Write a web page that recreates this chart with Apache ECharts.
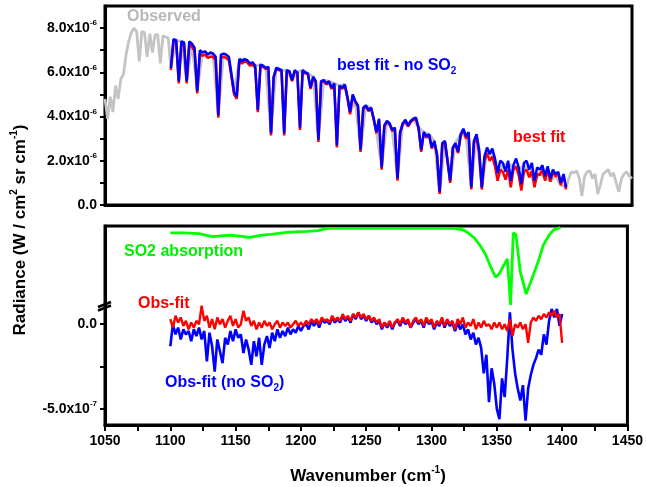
<!DOCTYPE html>
<html><head><meta charset="utf-8">
<script src="https://cdn.jsdelivr.net/npm/echarts@6/dist/echarts.min.js"></script>
<style>html,body{margin:0;padding:0;background:#fff}#c{width:646px;height:487px}</style>
</head><body><div id="c"></div>
<script>
// ---------- DATA (radiance in units of 1e-6, residuals in units of 1e-7 W / cm2 sr cm-1) ----------
const wnFit = [
1100,1102,1104,1106,1108,1110,1112,1114,1116,1118,
1120,1122,1124,1126,1128,1130,1132,1134,1136,1138,
1140,1142,1144,1146,1148,1150,1152,1154,1156,1158,
1160,1162,1164,1166,1168,1170,1172,1174,1176,1178,
1180,1182,1184,1186,1188,1190,1192,1194,1196,1198,
1200,1202,1204,1206,1208,1210,1212,1214,1216,1218,
1220,1222,1224,1226,1228,1230,1232,1234,1236,1238,
1240,1242,1244,1246,1248,1250,1252,1254,1256,1258,
1260,1262,1264,1266,1268,1270,1272,1274,1276,1278,
1280,1282,1284,1286,1288,1290,1292,1294,1296,1298,
1300,1302,1304,1306,1308,1310,1312,1314,1316,1318,
1320,1322,1324,1326,1328,1330,1332,1334,1336,1338,
1340,1342,1344,1346,1348,1350,1352,1354,1356,1358,
1360,1362,1364,1366,1368,1370,1372,1374,1376,1378,
1380,1382,1384,1386,1388,1390,1392,1394,1396,1398,
1400];
const bestFitNoSO2 = [
6.2,7.5,7.45,5.6,7.4,7.35,5.6,7.4,7.3,7.1,
5.15,7.0,6.9,6.95,6.8,6.9,6.85,6.7,4.05,6.8,
6.85,6.8,6.7,5.9,5.1,4.9,6.6,6.5,6.6,6.55,
6.4,6.45,6.3,4.3,6.35,6.3,6.2,6.25,3.25,5.8,
6.2,6.15,6.1,3.25,6.1,6.05,5.65,6.1,6.0,3.5,
6.1,6.0,5.95,5.3,5.8,5.6,2.95,5.6,5.65,5.5,
5.6,5.3,5.5,2.7,5.4,5.3,5.45,4.9,4.2,5.0,
4.7,4.5,2.5,4.4,4.5,4.3,4.4,3.9,3.3,3.9,
1.7,3.6,3.8,3.7,3.4,3.5,1.2,3.3,3.7,3.85,
3.6,3.8,3.9,3.95,3.5,2.5,3.3,3.1,3.2,2.6,
2.9,2.3,0.6,2.8,2.9,2.0,1.1,2.6,2.8,2.4,
3.2,3.45,3.1,3.3,0.8,2.9,3.2,2.5,0.8,2.2,
2.6,2.3,2.55,2.1,1.45,2.0,1.9,1.5,2.0,1.1,
1.8,2.1,1.7,0.95,1.9,2.0,1.6,1.9,1.1,1.7,
1.6,1.8,1.3,1.75,1.2,1.6,1.4,1.5,1.0,1.4,
0.8];
const bestFit = [
6.1,7.45,7.4,5.5,7.3,7.25,5.5,7.3,7.15,6.95,
5.05,6.85,6.75,6.8,6.65,6.7,6.7,6.55,3.95,6.65,
6.7,6.65,6.55,5.8,5.0,4.8,6.5,6.4,6.5,6.45,
6.3,6.35,6.2,4.2,6.3,6.25,6.15,6.2,3.15,5.75,
6.15,6.1,6.05,3.15,6.05,6.0,5.6,6.05,5.95,3.4,
6.05,5.95,5.9,5.25,5.75,5.55,2.85,5.55,5.6,5.45,
5.55,5.25,5.45,2.6,5.35,5.25,5.4,4.85,4.1,4.95,
4.65,4.45,2.4,4.35,4.45,4.25,4.35,3.85,3.25,3.85,
1.6,3.55,3.75,3.65,3.35,3.45,1.1,3.25,3.65,3.8,
3.55,3.75,3.85,3.9,3.45,2.4,3.25,3.05,3.15,2.55,
2.85,2.25,0.5,2.75,2.85,1.95,1.0,2.55,2.75,2.35,
3.15,3.4,3.0,3.2,0.7,2.8,3.05,2.35,0.7,2.0,
2.35,2.0,2.2,1.75,1.1,1.6,1.5,1.15,1.6,0.8,
1.6,1.75,1.35,0.65,1.5,1.6,1.25,1.55,0.8,1.4,
1.35,1.6,1.1,1.6,1.05,1.5,1.3,1.4,0.9,1.35,
0.7];
const obsWn = [
1050,1052,1054,1056,1058,1060,1062,1064,1066,1068,1070,1072,1074,1076,1078,1080,1082,1084,1086,1088,1090,1092,1094,1096,1098,
1100,1104,1108,1112,1116,1120,1124,1128,1132,1136,
1140,1144,1148,1152,1156,1160,1164,1168,1172,1176,
1180,1184,1188,1192,1196,1200,1204,1208,1212,1216,
1220,1224,1228,1232,1236,1240,1244,1248,1252,1256,
1260,1264,1268,1272,1276,1280,1284,1288,1292,1296,
1300,1304,1308,1312,1316,1320,1324,1328,1332,1336,
1340,1344,1348,1352,1356,1360,1364,1368,1372,1376,
1380,1384,1388,1392,1396,1400,
1402,1404,1406,1408,1410,1412,1414,1416,1418,1420,1422,1424,1426,1428,1430,1432,1434,1436,1438,1440,1442,1444,1446,1448,1450];
const observed = [
4.8,3.9,4.9,4.2,5.4,4.8,5.7,5.9,6.8,7.4,7.8,8.0,7.85,6.5,7.85,7.8,6.7,7.75,6.9,7.7,7.7,6.4,7.65,7.6,7.55,
6.2,7.45,7.4,5.6,7.3,5.15,6.9,6.8,6.85,4.05,
6.85,6.7,5.1,6.6,6.6,6.4,6.3,6.35,6.2,3.25,
6.2,6.1,6.1,5.65,6.0,6.1,5.95,5.8,2.95,5.65,
5.6,5.5,5.4,5.45,4.2,4.7,2.5,4.5,4.4,3.3,
1.7,3.8,3.4,1.2,3.7,3.6,3.9,3.5,3.3,3.2,
2.9,0.5,2.9,1.1,2.8,3.2,3.1,0.8,3.2,0.8,
2.5,2.4,1.3,1.8,1.9,1.7,1.6,1.8,1.5,1.0,
1.5,1.2,1.1,1.3,0.9,0.8,
1.2,1.5,1.45,1.55,1.2,0.4,1.3,1.5,1.55,1.2,1.4,0.5,0.9,1.4,1.5,1.6,1.3,1.45,1.0,0.6,1.2,1.4,1.5,1.3,1.2];
const obsMinusFit = [
0.3,-0.2,0.5,0.1,0.4,-0.1,0.2,-0.3,0.1,-0.2,
0.2,0.0,1.1,0.2,0.5,-0.2,0.3,-0.3,0.4,0.0,
0.3,-0.2,0.2,0.5,-0.1,0.3,-0.2,0.0,0.8,0.2,
0.4,-0.1,0.2,-0.3,0.1,-0.2,0.2,-0.1,0.1,-0.3,
0.0,0.2,-0.2,0.1,-0.1,0.1,-0.2,0.0,0.2,-0.1,
0.1,-0.1,0.2,0.0,0.3,0.1,0.3,0.0,0.4,0.2,
0.3,0.1,0.5,0.2,0.4,0.2,0.6,0.3,0.5,0.2,
0.6,0.4,0.7,0.4,0.6,0.3,0.5,0.2,0.4,0.1,
0.3,-0.2,0.1,-0.1,0.2,-0.2,0.1,0.3,0.0,0.4,
0.1,0.3,-0.2,0.2,0.4,0.1,0.3,-0.1,0.4,0.1,
0.3,-0.2,0.2,0.0,0.4,-0.1,0.3,0.0,0.2,-0.3,
0.3,0.0,0.4,-0.2,0.1,-0.1,0.3,-0.3,0.1,-0.2,
0.2,-0.1,0.0,-0.3,0.1,-0.2,0.1,-0.3,0.0,-0.4,
0.3,-0.7,0.0,-0.2,0.1,-0.3,0.0,-1.1,0.1,0.4,
0.2,0.5,0.3,0.6,0.4,0.7,0.5,0.8,0.4,0.6,
-1.1];
const obsMinusFitNoSO2 = [
-1.3,0.0,-0.6,-0.2,-0.9,-0.3,-0.6,-0.4,-1.0,-0.3,
-0.7,-0.2,-0.9,-0.4,-2.2,-0.5,-1.3,-2.8,-0.9,-1.6,
-2.3,-0.8,-1.2,-0.4,-1.0,-0.3,-0.8,-0.6,-1.7,-0.9,
-1.5,-2.4,-1.0,-1.9,-0.8,-2.4,-1.2,-0.7,-1.4,-0.5,
-1.0,-0.3,-0.8,-0.4,-0.7,-0.2,-0.6,-0.3,-0.5,-0.1,
-0.4,-0.1,0.0,-0.3,0.2,-0.1,0.2,-0.2,0.3,0.1,
0.2,0.0,0.4,0.1,0.3,0.1,0.5,0.2,0.4,0.1,
0.6,0.3,0.7,0.3,0.5,0.2,0.5,0.1,0.3,0.0,
0.2,-0.3,0.1,-0.2,0.1,-0.3,0.1,0.2,-0.1,0.3,
0.0,0.2,-0.2,0.1,0.3,0.0,0.2,-0.2,0.3,0.0,
0.2,-0.3,0.1,-0.1,0.3,-0.2,0.2,-0.1,0.1,-0.4,
0.1,-0.3,0.0,-0.6,-0.3,-0.9,-0.5,-1.2,-0.8,-1.4,
-2.9,-1.8,-4.6,-2.6,-3.5,-5.0,-5.6,-3.2,-4.3,-2.0,
0.7,-1.5,-2.9,-3.8,-4.5,-3.6,-5.7,-3.8,-3.0,-2.4,
-2.0,-1.5,-1.8,-0.6,-1.2,0.2,0.9,0.4,0.9,-0.1,
0.6];
// SO2 absorption (arbitrary units, plotted on its own hidden scale)
const so2Wn = [1100,1110,1122,1132,1146,1156,1161,1170,1177,1186,1192,1205,1213,1220,1260,1300,1318,1324,1328,1333,1337,1341,1345,1349,1352,1355.5,1358,1359.2,1360.5,1362.6,1364.6,1368,1372.5,1377.7,1382,1385.6,1390,1393.5,1398.7];
const so2Abs = [-0.09,-0.09,-0.10,-0.14,-0.12,-0.14,-0.15,-0.12,-0.11,-0.09,-0.08,-0.07,-0.06,-0.03,-0.03,-0.03,-0.03,-0.05,-0.09,-0.16,-0.25,-0.36,-0.52,-0.67,-0.62,-0.51,-0.43,-0.70,-1.03,-0.09,-0.11,-0.60,-0.89,-0.65,-0.45,-0.25,-0.12,-0.05,-0.02];
// tick values / labels
const topTickValues = [0,1,2,3,4,5,6,7,8];
const topLabelValues = [0,2,4,6,8];
const lowTickValues = [-5,-2.5,0];
const lowLabelValues = [-5,0];

// ---------- CHART ----------
const F = '"Liberation Sans", Arial, Helvetica, sans-serif';
const zip = (xs, ys) => xs.map((x, i) => [x, ys[i]]);
const labRich = {
  m: {fontFamily: F, fontWeight: 'bold', fontSize: 14, color: '#000', lineHeight: 18},
  s: {fontFamily: F, fontWeight: 'bold', fontSize: 8, color: '#000', verticalAlign: 'top', lineHeight: 8}
};
const axLine = {show: true, onZero: false, lineStyle: {color: '#000', width: 3}};
const tickStyle = {color: '#000', width: 2};

const chart = echarts.init(document.getElementById('c'));
chart.setOption({
  animation: false,
  backgroundColor: '#fff',
  grid: [
    {left: 105, right: 14, top: 6, height: 199, show: true, borderColor: '#000', borderWidth: 3},
    {left: 105, right: 14, top: 226, height: 199, show: true, borderColor: '#000', borderWidth: 3}
  ],
  xAxis: [
    {type: 'value', gridIndex: 0, min: 1050, max: 1450, interval: 25,
     axisLine: axLine, axisTick: {show: false}, axisLabel: {show: false}, splitLine: {show: false}},
    {type: 'value', gridIndex: 1, min: 1050, max: 1450, interval: 25,
     axisLine: axLine, axisTick: {show: true, length: 6, lineStyle: tickStyle},
     axisLabel: {margin: 9, fontFamily: F, fontWeight: 'bold', fontSize: 14, color: '#000',
                 formatter: v => (v % 50 === 0 ? String(v) : '')},
     splitLine: {show: false}}
  ],
  yAxis: [
    {type: 'value', gridIndex: 0, min: 0, max: 9,
     axisLine: axLine,
     axisTick: {show: true, length: 5, lineStyle: tickStyle, customValues: topTickValues},
     axisLabel: {margin: 8, customValues: topLabelValues, rich: labRich,
                 formatter: v => v === 0 ? '{m|0.0}' : '{m|' + v.toFixed(1) + 'x10}{s|-6}'},
     splitLine: {show: false}},
    {type: 'value', gridIndex: 1, min: -5.95, max: 5.8,
     axisLine: axLine,
     axisTick: {show: true, length: 5, lineStyle: tickStyle, customValues: lowTickValues},
     axisLabel: {margin: 8, customValues: lowLabelValues, rich: labRich,
                 formatter: v => v === 0 ? '{m|0.0}' : '{m|' + v.toFixed(1) + 'x10}{s|-7}'},
     splitLine: {show: false}},
    {type: 'value', gridIndex: 1, min: -2.6, max: 0, show: false, splitLine: {show: false}}
  ],
  series: [
    {name: 'Observed', type: 'line', xAxisIndex: 0, yAxisIndex: 0, data: zip(obsWn, observed),
     showSymbol: false, lineStyle: {color: '#c4c4c4', width: 2.8}, z: 2},
    {name: 'best fit', type: 'line', xAxisIndex: 0, yAxisIndex: 0, data: zip(wnFit, bestFit),
     showSymbol: false, lineStyle: {color: '#ff0000', width: 2.5}, z: 3},
    {name: 'best fit - no SO2', type: 'line', xAxisIndex: 0, yAxisIndex: 0, data: zip(wnFit, bestFitNoSO2),
     showSymbol: false, lineStyle: {color: '#0000ff', width: 2.5}, z: 4},
    {name: 'Obs-fit (no SO2)', type: 'line', xAxisIndex: 1, yAxisIndex: 1, data: zip(wnFit, obsMinusFitNoSO2),
     showSymbol: false, lineStyle: {color: '#0000ff', width: 2.6}, z: 2},
    {name: 'Obs-fit', type: 'line', xAxisIndex: 1, yAxisIndex: 1, data: zip(wnFit, obsMinusFit),
     showSymbol: false, lineStyle: {color: '#ff0000', width: 2.4}, z: 3},
    {name: 'SO2 absorption', type: 'line', xAxisIndex: 1, yAxisIndex: 2, data: zip(so2Wn, so2Abs),
     showSymbol: false, lineStyle: {color: '#00ff00', width: 2.8}, z: 4}
  ],
  graphic: [
    {type: 'text', x: 127, y: 17, style: {text: 'Observed', fill: '#b8b8b8', font: 'bold 16px ' + F, verticalAlign: 'middle'}},
    {type: 'text', x: 337, y: 66, style: {text: '{a|best fit - no SO}{b|2}', verticalAlign: 'middle',
      rich: {a: {fill: '#0000ff', font: 'bold 16px ' + F, lineHeight: 20}, b: {fill: '#0000ff', font: 'bold 10px ' + F, lineHeight: 10, verticalAlign: 'bottom'}}}},
    {type: 'text', x: 513, y: 138, style: {text: 'best fit', fill: '#ff0000', font: 'bold 16px ' + F, verticalAlign: 'middle'}},
    {type: 'text', x: 124, y: 252, style: {text: 'SO2 absorption', fill: '#00ee00', font: 'bold 16px ' + F, verticalAlign: 'middle'}},
    {type: 'text', x: 138, y: 304, style: {text: 'Obs-fit', fill: '#ff0000', font: 'bold 16px ' + F, verticalAlign: 'middle'}},
    {type: 'text', x: 165, y: 383, style: {text: '{a|Obs-fit (no SO}{b|2}{a|)}', verticalAlign: 'middle',
      rich: {a: {fill: '#0000ff', font: 'bold 16px ' + F, lineHeight: 20}, b: {fill: '#0000ff', font: 'bold 10px ' + F, lineHeight: 10, verticalAlign: 'bottom'}}}},
    {type: 'text', x: 368, y: 476, style: {text: '{a|Wavenumber (cm}{b|-1}{a|)}', align: 'center', verticalAlign: 'middle',
      rich: {a: {fill: '#000', font: 'bold 17px ' + F, lineHeight: 21}, b: {fill: '#000', font: 'bold 10px ' + F, lineHeight: 10, verticalAlign: 'top'}}}},
    {type: 'text', x: 20, y: 230, rotation: Math.PI / 2,
     style: {text: '{a|Radiance (W / cm}{b|2}{a| sr cm}{b|-1}{a|)}', align: 'center', verticalAlign: 'middle',
      rich: {a: {fill: '#000', font: 'bold 17px ' + F, lineHeight: 21}, b: {fill: '#000', font: 'bold 10px ' + F, lineHeight: 10, verticalAlign: 'top'}}}},
    // axis break mark on lower-left axis
    {type: 'line', shape: {x1: 98, y1: 307, x2: 111, y2: 302}, style: {stroke: '#000', lineWidth: 2.5}, z: 100},
    {type: 'line', shape: {x1: 98, y1: 310.5, x2: 111, y2: 305.5}, style: {stroke: '#000', lineWidth: 2.5}, z: 100}
  ]
});
</script>
</body></html>
